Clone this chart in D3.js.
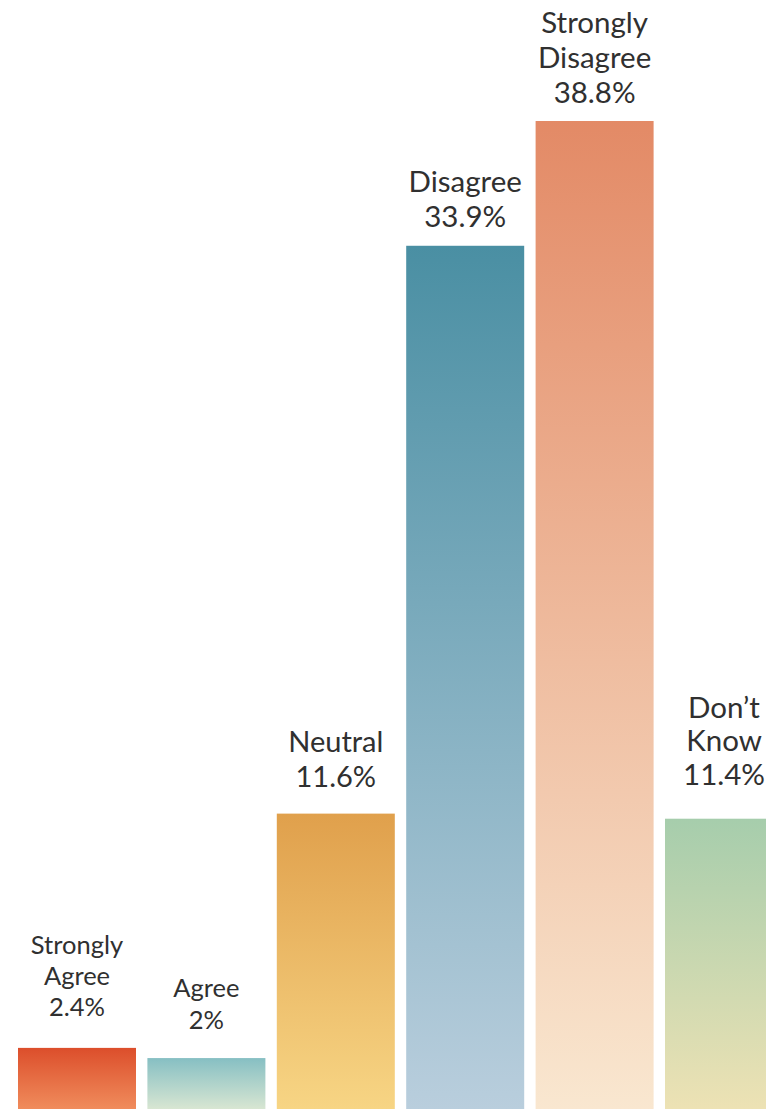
<!DOCTYPE html>
<html><head><meta charset="utf-8">
<script src="https://cdn.jsdelivr.net/npm/d3@7"></script>
<style>html,body{margin:0;padding:0;background:#fff;overflow:hidden}</style>
</head><body>
<svg id="chart" width="766" height="1109"></svg>
<script>
const categories = ["Strongly Agree","Agree","Neutral","Disagree","Strongly Disagree","Don’t Know"];
const labelLines = [["Strongly","Agree"],["Agree"],["Neutral"],["Disagree"],["Strongly","Disagree"],["Don’t","Know"]];
const values = [2.4, 2, 11.6, 33.9, 38.8, 11.4];
const valueLabels = ["2.4%","2%","11.6%","33.9%","38.8%","11.4%"];
const topColors = ["#dc4e2b","#86bfc3","#e0a04c","#4a8fa3","#e38a66","#a6cdac"];
const bottomColors = ["#f08c5c","#d8e6d2","#f7d584","#b9cedd","#f9e7d0","#ede2b4"];

// label styling (font size, line height, gap above bar)
const labelSize = [25.5, 25.5, 29, 29.5, 29.5, 29.5];
const labelLineH = [31, 32, 35, 35, 35, 33.5];
const labelGap = [32, 29, 27, 19, 18, 34];

const svg = d3.select("#chart");
const x = d3.scaleBand().domain(categories).range([18, 783]).paddingInner(0.0881).paddingOuter(0);
const y = d3.scaleLinear().domain([0, 38.8]).range([1109, 121]);

const defs = svg.append("defs");
categories.forEach((c,i)=>{
  const g = defs.append("linearGradient").attr("id","g"+i).attr("x1",0).attr("y1",0).attr("x2",0).attr("y2",1);
  g.append("stop").attr("offset","0%").attr("stop-color",topColors[i]);
  g.append("stop").attr("offset","100%").attr("stop-color",bottomColors[i]);
});

svg.selectAll("rect.bar").data(values).join("rect").attr("class","bar")
  .attr("x",(d,i)=>x(categories[i])).attr("width",x.bandwidth())
  .attr("y",d=>y(d)).attr("height",d=>y(0)-y(d))
  .attr("fill",(d,i)=>`url(#g${i})`);

svg.selectAll("text.lbl").data(values).join("text").attr("class","lbl")
  .attr("text-anchor","middle")
  .attr("font-family","Lato, 'Open Sans', sans-serif")
  .attr("font-weight",400)
  .attr("font-size",(d,i)=>labelSize[i]).attr("fill","#303030")
  .each(function(d,i){
    const lines = labelLines[i].concat([valueLabels[i]]);
    const cx = x(categories[i]) + x.bandwidth()/2;
    const base = y(d) - labelGap[i];
    const t = d3.select(this);
    lines.forEach((l,k)=>{
      t.append("tspan").attr("x",cx).attr("y", base - (lines.length-1-k)*labelLineH[i]).text(l);
    });
  });
</script>
</body></html>
